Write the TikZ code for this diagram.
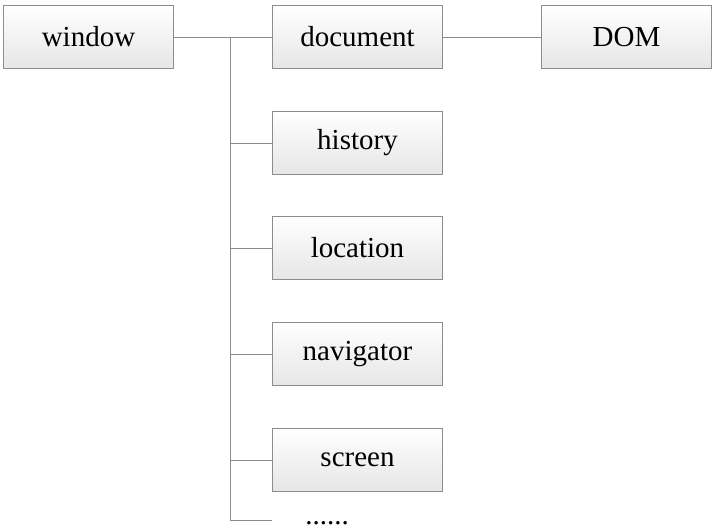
\documentclass[tikz,border=0pt]{standalone}
\usepackage{fontspec}
\setmainfont{Liberation Serif}
\newfontfamily\tnr{Liberation Serif}
\definecolor{boxline}{HTML}{8C8C8C}
\definecolor{conn}{HTML}{8C8C8C}
\definecolor{boxbot}{HTML}{E6E6E6}
\begin{document}
\begin{tikzpicture}[x=1pt,y=-1pt,
  objbox/.style={draw=boxline, line width=0.8pt, top color=white, bottom color=boxbot,
    minimum width=170pt, minimum height=63pt, inner sep=0pt,
    font=\tnr\fontsize{29}{32}\selectfont},
  link/.style={draw=conn, line width=0.8pt}]
\useasboundingbox (0,0) rectangle (718,530);
\node[objbox] (window) at (88.5,37) {window};
\node[objbox] (document) at (357.5,37) {document};
\node[objbox] (dom) at (626.5,37) {DOM};
\node[objbox] (history) at (357.5,143) {history};
\node[objbox] (location) at (357.5,248) {location};
\node[objbox] (navigator) at (357.5,354) {navigator};
\node[objbox] (screen) at (357.5,460) {screen};
\node[font=\tnr\fontsize{29}{32}\selectfont, anchor=base] (dots) at (327,524) {......};
\coordinate (top) at (230,37);
\coordinate (bot) at (230,520);
\coordinate (dotsend) at (272,520);
\draw[link] (window.east) -- (document.west);
\draw[link] (document.east) -- (dom.west);
\draw[link] (top) -- (bot) -- (dotsend);
\draw[link] (history.west) -- (history.west -| top);
\draw[link] (location.west) -- (location.west -| top);
\draw[link] (navigator.west) -- (navigator.west -| top);
\draw[link] (screen.west) -- (screen.west -| top);
\end{tikzpicture}
\end{document}
